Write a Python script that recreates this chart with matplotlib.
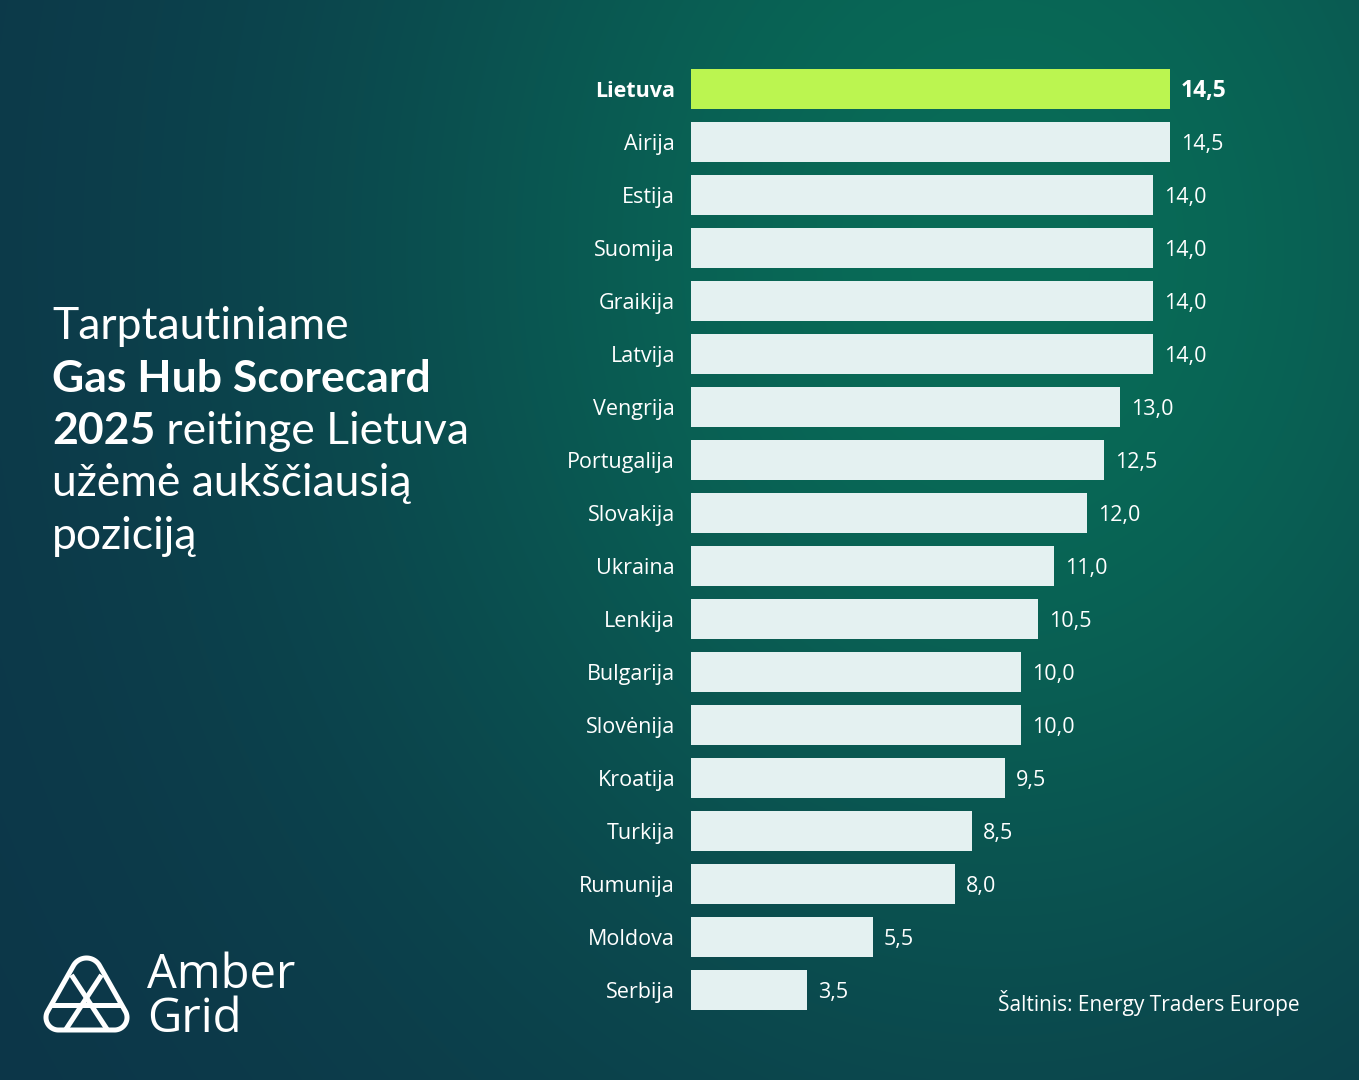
import numpy as np
import matplotlib
matplotlib.use('Agg')
import matplotlib.pyplot as plt
from matplotlib.path import Path
from matplotlib.patches import PathPatch

plt.rcParams['font.family'] = ['Open Sans', 'DejaVu Sans']

# data
countries = ['Lietuva', 'Airija', 'Estija', 'Suomija', 'Graikija', 'Latvija',
             'Vengrija', 'Portugalija', 'Slovakija', 'Ukraina', 'Lenkija',
             'Bulgarija', 'Slovėnija', 'Kroatija', 'Turkija', 'Rumunija',
             'Moldova', 'Serbija']
scores = [14.5, 14.5, 14.0, 14.0, 14.0, 14.0, 13.0, 12.5, 12.0, 11.0, 10.5,
          10.0, 10.0, 9.5, 8.5, 8.0, 5.5, 3.5]
highlight = 'Lietuva'

title_lines = [
    [('Tarptautiniame', 'normal')],
    [('Gas Hub Scorecard', 'bold')],
    [('2025', 'bold'), (' reitinge Lietuva', 'normal')],
    [('užėmė aukščiausią', 'normal')],
    [('poziciją', 'normal')],
]
source = 'Šaltinis: Energy Traders Europe'

W, H = 1359, 1080
fig = plt.figure(figsize=(W / 100, H / 100), dpi=100)

# background (pixel coordinates, y down)
bg = fig.add_axes([0, 0, 1, 1])
bg.set_xlim(0, W)
bg.set_ylim(H, 0)
bg.axis('off')
yy, xx = np.mgrid[0:H:2, 0:W:2].astype(float)
w = np.exp(-((xx - 1000) ** 2 / (2 * 480.0 ** 2) + (yy - 250) ** 2 / (2 * 580.0 ** 2)))
navy = np.array([0x0d, 0x34, 0x48]) / 255
green = np.array([0x08, 0x6c, 0x57]) / 255
img = navy[None, None, :] * (1 - w[..., None]) + green[None, None, :] * w[..., None]
bg.imshow(img, extent=(0, W, H, 0), aspect='auto', zorder=0, interpolation='bilinear')

# bars
light = '#e4f1f1'
lime = '#bbf550'
ax = fig.add_axes([691 / W, 1 - 1016.5 / H, 495 / W, 954 / H])
ax.patch.set_alpha(0)
ypos = np.arange(len(countries))
bar_colors = [lime if c == highlight else light for c in countries]
ax.barh(ypos, scores, height=0.755, color=bar_colors)
ax.set_xlim(0, 15)
ax.set_ylim(len(countries) - 0.5, -0.5)
ax.set_xticks([])
ax.set_yticks(ypos, countries)
ax.tick_params(axis='y', length=0, pad=11.5, labelsize=15.5, labelcolor='white')
for lab in ax.get_yticklabels():
    if lab.get_text() == highlight:
        lab.set_fontweight('bold')
for s in ax.spines.values():
    s.set_visible(False)

for y, v, c in zip(ypos, scores, countries):
    txt = f'{v:.1f}'.replace('.', ',')
    if c == highlight:
        ax.annotate(txt, (v, y), xytext=(8, -1.5), textcoords='offset points',
                    va='center', ha='left', color='white', fontsize=16.5, fontweight='bold')
    else:
        ax.annotate(txt, (v, y), xytext=(8, -1.5), textcoords='offset points',
                    va='center', ha='left', color='white', fontsize=15.5)

# title with mixed weights
fig.canvas.draw()
renderer = fig.canvas.get_renderer()
baselines = [339, 391.5, 444, 496.5, 549]
for base, parts in zip(baselines, title_lines):
    x = 52
    for txt, wt in parts:
        t = bg.text(x, base, txt, color='white', fontsize=32, fontweight=wt,
                    family=['Lato', 'DejaVu Sans'], ha='left', va='baseline')
        bb = t.get_window_extent(renderer=renderer)
        x += bb.width  # 1 px per data unit on bg axes

bg.text(1300, 1003, source, color='white', fontsize=15, ha='right', va='center')

# logo
def hull(centers, radii, n=400):
    pts = []
    for th in np.linspace(0, 2 * np.pi, n):
        d = np.array([np.cos(th), np.sin(th)])
        vals = [np.dot(c, d) + r for c, r in zip(centers, radii)]
        i = int(np.argmax(vals))
        pts.append(np.array(centers[i]) + radii[i] * d)
    return np.array(pts)

centers = [(86.5, 973.0), (58.5, 1017.5), (114.5, 1017.5)]
radii = [15, 12.5, 12.5]
outline = hull(centers, radii)
opath = Path(np.vstack([outline, outline[:1]]), closed=True)
patch = PathPatch(opath, fill=False, ec='white', lw=3.6, zorder=5)
bg.add_patch(patch)
clip = PathPatch(opath, transform=bg.transData, visible=False)
bg.add_patch(clip)
inner = [((30, 1005), (150, 1005)),
         ((71.5, 975), (107.5, 1030)),
         ((101.5, 975), (65.5, 1030))]
for (x0, y0), (x1, y1) in inner:
    ln, = bg.plot([x0, x1], [y0, y1], color='white', lw=3.6, solid_capstyle='butt', zorder=5)
    ln.set_clip_path(clip)

bg.text(147, 988, 'Amber', color='white', fontsize=34, ha='left', va='baseline')
bg.text(147, 1032, 'Grid', color='white', fontsize=34, ha='left', va='baseline')

fig.savefig('out.png', dpi=100)
